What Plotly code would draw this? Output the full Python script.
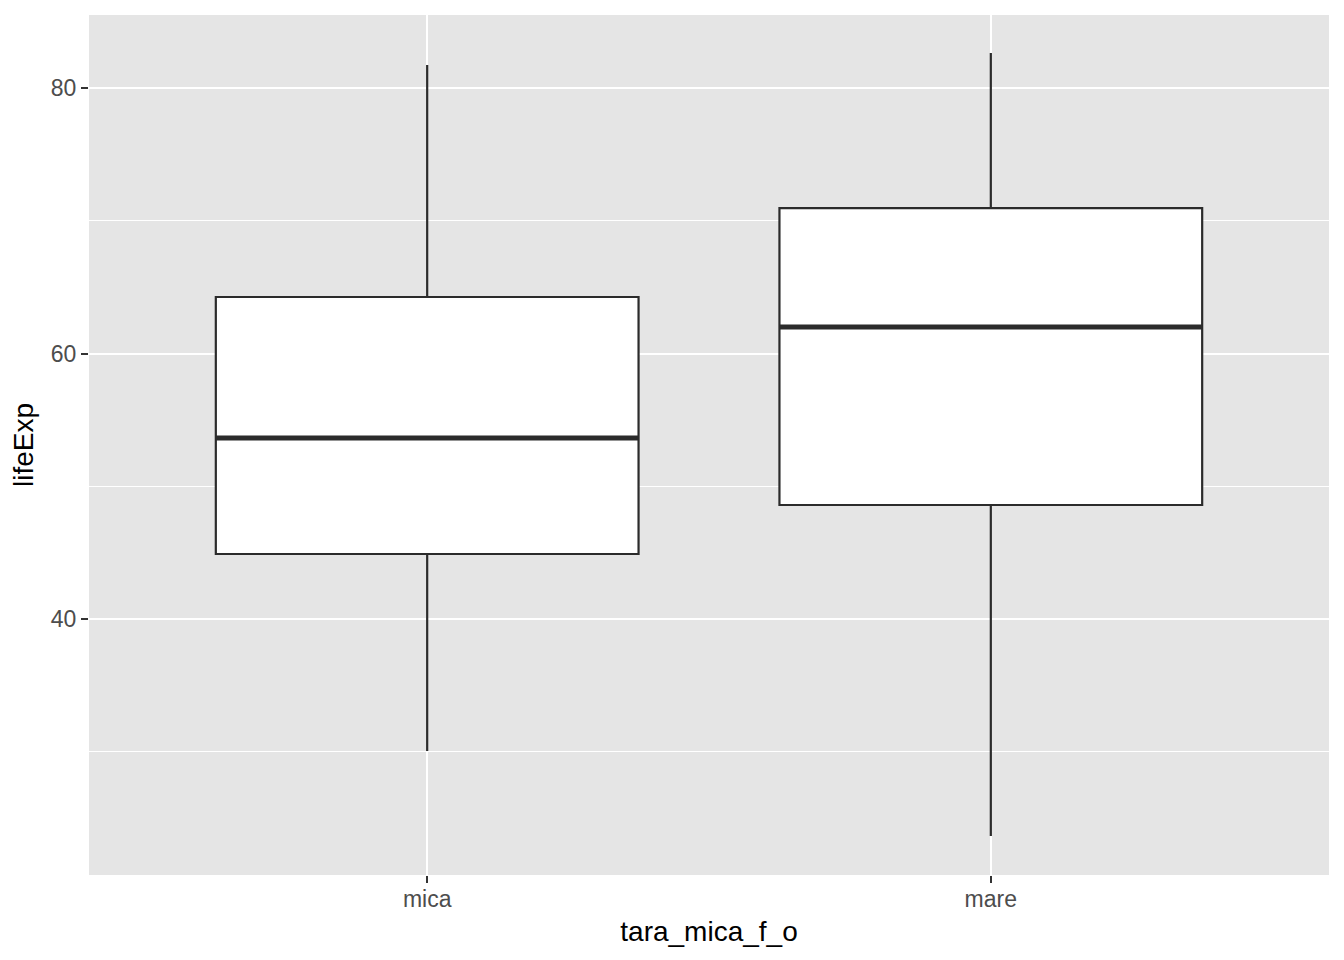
import plotly.graph_objects as go

categories = ["mica", "mare"]
lower_whisker = [30.06, 23.65]
q1 = [44.90, 48.59]
median = [53.63, 62.0]
q3 = [64.26, 70.96]
upper_whisker = [81.73, 82.64]

box_width = 0.75
line_col = "#2b2b2b"

positions = list(range(len(categories)))

fig = go.Figure()
fig.add_trace(go.Box(
    x=positions, q1=q1, median=median, q3=q3,
    lowerfence=lower_whisker, upperfence=upper_whisker,
    width=box_width, fillcolor="white",
    line=dict(color=line_col, width=2.2),
    whiskerwidth=0, boxpoints=False, showlegend=False, hoverinfo="skip",
))
# thick median lines (ggplot style)
for p, m in zip(positions, median):
    fig.add_trace(go.Scatter(
        x=[p - box_width / 2, p + box_width / 2], y=[m, m], mode="lines",
        line=dict(color=line_col, width=5), showlegend=False, hoverinfo="skip",
    ))

fig.update_layout(
    width=1344, height=960,
    margin=dict(l=81, r=23, t=7, b=93),
    paper_bgcolor="white", plot_bgcolor="#e5e5e5",
    font=dict(family="Liberation Sans, Arial, sans-serif"),
)
fig.update_xaxes(
    range=[-0.6, 1.6], tickvals=positions, ticktext=categories,
    showgrid=True, gridcolor="white", gridwidth=2, zeroline=False,
    ticks="outside", ticklen=7, tickwidth=2, tickcolor="#333333",
    tickfont=dict(size=23, color="#4d4d4d"), ticklabelstandoff=-4,
    title=dict(text="tara_mica_f_o", font=dict(size=28, color="black"), standoff=10),
)
fig.update_yaxes(
    range=[20.72, 85.5], tickvals=[40, 60, 80],
    showgrid=True, gridcolor="white", gridwidth=2, zeroline=False,
    minor=dict(tickvals=[30, 50, 70], showgrid=True, gridcolor="white", gridwidth=1, ticks=""),
    ticks="outside", ticklen=7, tickwidth=2, tickcolor="#333333",
    tickfont=dict(size=23, color="#4d4d4d"),
    title=dict(text="lifeExp", font=dict(size=28, color="black"), standoff=9),
)

fig.write_html("out.html")
